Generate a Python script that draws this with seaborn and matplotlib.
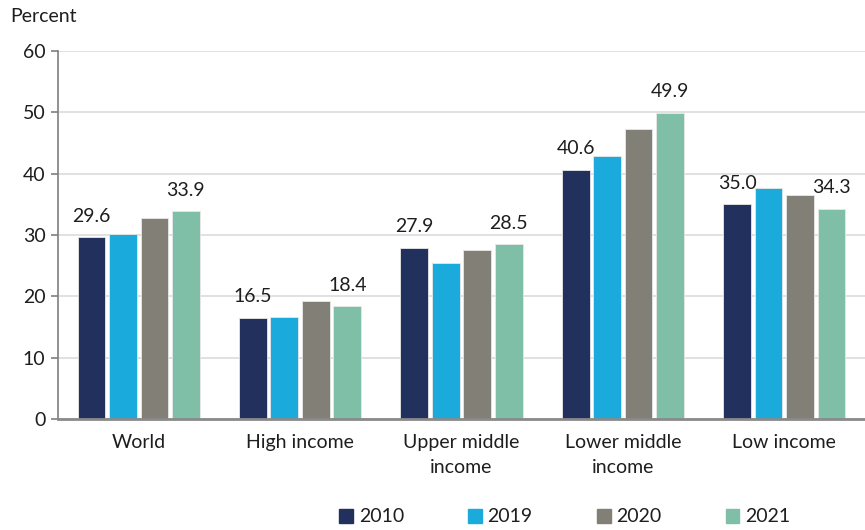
import numpy as np
import pandas as pd
import seaborn as sns
import matplotlib.pyplot as plt

# values (percent)
groups = ["World", "High income", "Upper middle\nincome",
          "Lower middle\nincome", "Low income"]
years = ["2010", "2019", "2020", "2021"]
v2010 = [29.6, 16.5, 27.9, 40.6, 35.0]
v2019 = [30.1, 16.6, 25.5, 42.8, 37.6]
v2020 = [32.8, 19.2, 27.6, 47.3, 36.5]
v2021 = [33.9, 18.4, 28.5, 49.9, 34.3]
colors = ["#22305e", "#1aabdc", "#827f77", "#7fbfa8"]

df = pd.DataFrame({
    "Group": groups * 4,
    "Year": [y for y in years for _ in groups],
    "Value": v2010 + v2019 + v2020 + v2021,
})

sns.set_style("white")
plt.rcParams["font.family"] = ["Lato", "DejaVu Sans"]
txt = "#1e1e1e"
fs = 14

fig = plt.figure(figsize=(8.65, 5.3), dpi=100)
ax = fig.add_axes([0.067, 0.2094, 0.933, 0.6944])

sns.barplot(
    data=df, x="Group", y="Value", hue="Year",
    palette=colors, saturation=1, width=0.78, gap=0.12,
    edgecolor="#e8e8e8", linewidth=0.6,
    legend=False, ax=ax,
)

# labels only on first and last year
for idx, vals in [(0, v2010), (3, v2021)]:
    ax.bar_label(ax.containers[idx], labels=[f"{v:.1f}" for v in vals],
                 padding=9, fontsize=fs, color=txt)

ax.set_ylim(0, 60)
ax.set_yticks(range(0, 61, 10))
ax.set_xlim(-0.5, 4.5)
ax.grid(axis="y", color="#dcdcdc", linewidth=1.2)
ax.set_axisbelow(True)
for s in ["top", "right"]:
    ax.spines[s].set_visible(False)
ax.spines["left"].set_color("#7f7f7f")
ax.spines["left"].set_linewidth(1.2)
ax.spines["bottom"].set_color("#8a8a8a")
ax.spines["bottom"].set_linewidth(2)
ax.tick_params(axis="y", length=5, width=1.2, color="#7f7f7f",
               labelsize=fs, labelcolor=txt, pad=4, left=True)
ax.tick_params(axis="x", length=0, labelsize=fs, labelcolor=txt, pad=11)
for lab in ax.get_xticklabels():
    lab.set_linespacing(1.55)
ax.set_xlabel("")
ax.set_ylabel("")

fig.text(10 / 865, 1 - 17 / 530, "Percent", fontsize=fs, color=txt,
         va="center", ha="left")

handles = [plt.Rectangle((0, 0), 1, 1, color=c) for c in colors]
fig.legend(handles, years, loc="center", bbox_to_anchor=(0.653, 1 - 517 / 530),
           ncol=4, frameon=False, fontsize=fs, handlelength=0.7,
           handleheight=0.7, handletextpad=0.3, columnspacing=3.3,
           labelcolor=txt)

fig.savefig("out.png", dpi=100)
